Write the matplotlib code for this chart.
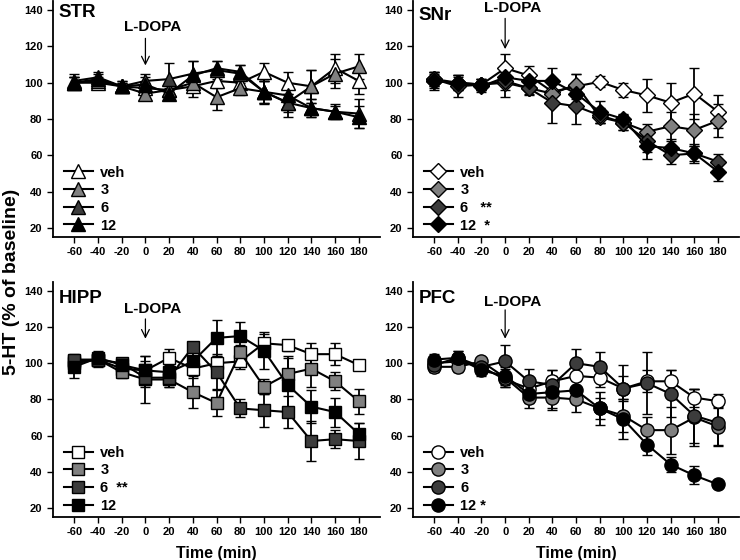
import numpy as np
import matplotlib
matplotlib.use('Agg')
import matplotlib.pyplot as plt

plt.rcParams['font.family'] = ['Liberation Sans', 'DejaVu Sans']
plt.rcParams['font.weight'] = 'bold'
plt.rcParams['axes.unicode_minus'] = False

time = [-60, -40, -20, 0, 20, 40, 60, 80, 100, 120, 140, 160, 180]
groups = ['veh', '3', '6', '12']
fills = ['white', '#808080', '#3c3c3c', 'black']

# STR
str_mean = {
    'veh': [100, 100, 98, 97, 96, 98, 101, 100, 106, 100, 98, 108, 101],
    '3':   [100, 101, 98, 94, 96, 100, 92, 97, 95, 89, 98, 105, 109],
    '6':   [101, 103, 98, 101, 102, 105, 107, 105, 95, 89, 86, 84, 83],
    '12':  [100, 102, 98, 99, 94, 104, 108, 106, 95, 93, 86, 84, 81],
}
str_err = {
    'veh': [3, 2, 2, 3, 3, 6, 4, 4, 5, 6, 9, 8, 7],
    '3':   [3, 2, 2, 3, 4, 4, 7, 4, 6, 8, 9, 8, 7],
    '6':   [4, 3, 3, 4, 9, 7, 5, 5, 7, 5, 5, 4, 8],
    '12':  [3, 3, 3, 4, 3, 8, 4, 4, 6, 4, 5, 3, 6],
}
# SNr
snr_mean = {
    'veh': [101, 100, 99, 108, 104, 95, 98, 100.5, 96, 93, 89, 94, 84],
    '3':   [102, 100, 99, 100, 97, 94, 99, 81, 78, 73, 76, 74, 79],
    '6':   [102, 98, 99, 101, 97, 89, 87, 82, 78, 68, 60, 61, 56.5],
    '12':  [101, 100, 98, 103, 101, 101, 94, 84, 80, 65, 64, 61, 51],
}
snr_err = {
    'veh': [5, 3, 3, 8, 5, 5, 7, 3, 4, 9, 11, 14, 9],
    '3':   [4, 4, 3, 8, 3, 6, 6, 3, 4, 4, 8, 9, 9],
    '6':   [4, 6, 3, 5, 4, 11, 10, 4, 4, 6, 5, 5, 4],
    '12':  [4, 4, 3, 5, 4, 7, 6, 6, 3, 7, 5, 4, 5],
}
# HIPP
hipp_mean = {
    'veh': [101, 102, 97, 96, 103, 97, 100, 101, 111, 110, 105, 105, 99],
    '3':   [100, 102, 95, 91, 91, 84, 78, 106, 87, 94, 97, 90, 79],
    '6':   [102, 102, 100, 92, 92, 109, 95, 75, 74, 73, 57, 58, 57],
    '12':  [98, 103, 99, 96, 95, 101, 114, 115, 107, 88, 76, 73, 61],
}
hipp_err = {
    'veh': [3, 3, 2, 5, 5, 5, 5, 4, 5, 3, 6, 6, 3],
    '3':   [3, 4, 3, 13, 4, 9, 7, 4, 4, 9, 10, 5, 7],
    '6':   [3, 3, 3, 5, 5, 2, 9, 5, 9, 9, 11, 5, 10],
    '12':  [6, 4, 3, 8, 4, 5, 10, 8, 10, 16, 9, 8, 6],
}
# PFC
pfc_mean = {
    'veh': [100, 101, 98, 91, 86, 90, 93, 92, 86, 90, 90, 81, 79],
    '3':   [98, 98, 101, 92, 81, 81, 80, 75, 71, 63, 63, 70, 65],
    '6':   [99, 103, 98, 101, 90, 88, 100, 98, 86, 89, 83, 71, 67],
    '12':  [102, 103, 96, 93, 83, 84, 85, 75, 69, 55, 44, 38, 33],
}
pfc_err = {
    'veh': [3, 3, 2, 4, 5, 6, 6, 5, 7, 6, 6, 5, 4],
    '3':   [3, 3, 2, 5, 6, 7, 7, 9, 9, 7, 13, 16, 11],
    '6':   [4, 4, 3, 9, 7, 8, 8, 8, 13, 17, 13, 15, 12],
    '12':  [3, 4, 3, 5, 5, 9, 5, 6, 11, 6, 4, 5, 2],
}


def panel(ax, mean, err, marker, ms, title, labels, title_y, txt_y, arr_top, arr_tip):
    handles = []
    for g, fc in zip(groups, fills):
        c = ax.errorbar(time, mean[g], yerr=err[g], color='black', lw=1.5,
                        marker=marker, ms=ms, mfc=fc, mec='black', mew=1.0,
                        ecolor='black', elinewidth=1.3, capsize=3.5, capthick=1.3)
        handles.append(c[0])
    ax.set_xlim(-78, 198)
    ax.set_ylim(15, 145)
    ax.set_xticks(range(-60, 181, 20))
    ax.set_yticks(range(20, 141, 20))
    ax.spines['top'].set_visible(False)
    ax.spines['right'].set_visible(False)
    ax.spines['left'].set_linewidth(1.3)
    ax.spines['bottom'].set_linewidth(1.3)
    ax.tick_params(direction='out', length=4, width=1.0, labelsize=8)
    for t in ax.get_xticklabels() + ax.get_yticklabels():
        t.set_fontweight('bold')
    ax.text(-73, title_y, title, fontsize=13.5, fontweight='bold', va='center', ha='left')
    ax.text(6, txt_y, 'L-DOPA', fontsize=11, fontweight='bold', ha='center', va='center')
    ax.annotate('', xy=(0, arr_tip), xytext=(0, arr_top),
                arrowprops=dict(arrowstyle='->', lw=0.9, color='black', mutation_scale=14))
    ax.legend(handles, labels, loc='lower left', bbox_to_anchor=(0.02, 0.0),
              frameon=False, handlelength=2.0, handletextpad=0.5, labelspacing=0.25,
              borderpad=0.1, borderaxespad=0.2, prop={'weight': 'bold', 'size': 10.5})


fig = plt.figure(figsize=(7.4, 5.6), dpi=100)
ax1 = fig.add_axes([0.0716, 0.577, 0.442, 0.421])
ax2 = fig.add_axes([0.558, 0.577, 0.441, 0.421])
ax3 = fig.add_axes([0.0716, 0.0768, 0.442, 0.42])
ax4 = fig.add_axes([0.558, 0.0768, 0.441, 0.42])

panel(ax1, str_mean, str_err, '^', 9.5, 'STR', ['veh', '3', '6', '12'], 139, 131, 126, 108)
panel(ax2, snr_mean, snr_err, 'D', 8, 'SNr', ['veh', '3', '6   **', '12  *'], 137, 141, 137, 117)
panel(ax3, hipp_mean, hipp_err, 's', 9, 'HIPP', ['veh', '3', '6  **', '12'], 136, 130, 126, 112)
panel(ax4, pfc_mean, pfc_err, 'o', 9.5, 'PFC', ['veh', '3', '6', '12 *'], 136, 134, 131, 112)

ax3.set_xlabel('Time (min)', fontsize=11.5, fontweight='bold', labelpad=6)
ax4.set_xlabel('Time (min)', fontsize=11.5, fontweight='bold', labelpad=6)
fig.text(0.015, 0.497, '5-HT (% of baseline)', rotation=90, fontsize=14,
         fontweight='bold', ha='center', va='center')

fig.savefig('out.png', dpi=100)
